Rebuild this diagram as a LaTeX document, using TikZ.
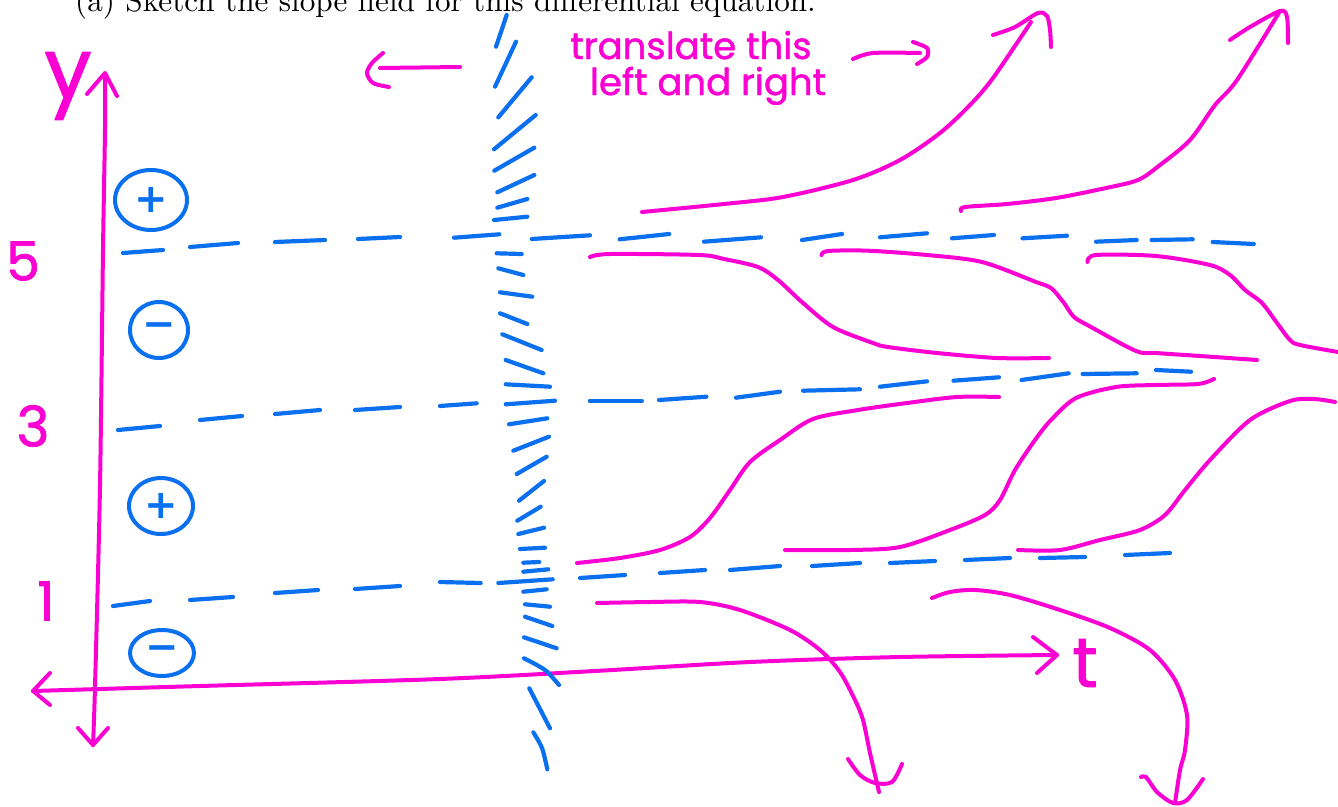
\documentclass[tikz,border=0pt]{standalone}
\usepackage{fontspec}
\usetikzlibrary{shapes.geometric}
\newfontfamily\hand{Poppins}[FakeBold=1.3]
\newfontfamily\signfont{DejaVu Sans}
\definecolor{mag}{RGB}{250,0,210}
\definecolor{blu}{RGB}{10,112,240}
\begin{document}
\begin{tikzpicture}[x=1pt,y=-1pt,line cap=round,line join=round,
  m/.style={draw=mag,line width=4pt},
  b/.style={draw=blu,line width=4.2pt},
  hw/.style={text=mag,inner sep=0pt},
  sign/.style={ellipse,draw=blu,line width=4pt,text=blu,inner sep=0pt,font=\signfont\bfseries\fontsize{40}{40}\selectfont}]
\useasboundingbox (0,0) rectangle (1338,806);
\clip (0,0) rectangle (1338,806);
% heading (cut at top, as in the reference)
\node[anchor=base west,inner sep=0pt] (head) at (75,11.5) {\scalebox{3.12}{\fontsize{10}{12}\selectfont (a) Sketch the slope field for this differential equation.}};
% annotation
\node[hw,anchor=base,font=\hand\fontsize{37}{37}\selectfont] (tr) at (691,59) {translate this};
\node[hw,anchor=base,font=\hand\fontsize{37}{37}\selectfont] (lr) at (708,95) {left and right};
\draw[m] (460,67) -- (380,68);
\draw[m] plot[smooth] coordinates {(383,53) (372,63) (367,73) (373,83) (389,87)};
\draw[m] plot[smooth] coordinates {(853,59) (873,53) (920,53)};
\draw[m] plot[smooth] coordinates {(913,42) (927,48) (927,57) (917,64)};
% axes
\draw[m] plot[smooth] coordinates {(93,745) (95,687) (100,486) (103,250) (105,129) (105,74)};
\draw[m] (87,94) -- (105,73) -- (117,96);
\draw[m] (78,728) -- (93,745) -- (108,728);
\draw[m] plot[smooth] coordinates {(33,691) (200,686) (440,679) (600,670.7) (750,662) (900,657) (1057,655)};
\draw[m] (50,673) -- (33,691) -- (50,705);
\draw[m] (1033,637) -- (1057,655) -- (1037,673);
\node[hw,font=\hand\fontsize{84}{84}\selectfont] (ylab) at (68,86) {y};
\node[hw,font=\hand\fontsize{54}{54}\selectfont] (l5) at (23,261) {5};
\node[hw,font=\hand\fontsize{56}{56}\selectfont] (l3) at (33,426) {3};
\node[hw,font=\hand\fontsize{54}{54}\selectfont] (l1) at (46,601) {1};
\node[hw,font=\hand\fontsize{70}{70}\selectfont] (tlab) at (1085,663) {t};
% sign circles
\node[sign,minimum width=72pt,minimum height=60pt] (p1) at (151,200) {+};
\node[sign,minimum width=58pt,minimum height=56pt] (n1) at (159,330) {\char"2212};
\node[sign,minimum width=64pt,minimum height=56pt] (p2) at (161,506) {+};
\node[sign,minimum width=64pt,minimum height=46pt] (n2) at (162,653) {\char"2212};
% equilibrium dashes y=5
\foreach \a/\b in {{(123,253)}/{(163,250)},{(190,247)}/{(238,243)},{(275,242)}/{(325,240)},{(358,239)}/{(400,237)},{(454,237.7)}/{(499.3,234.3)},{(531.7,239)}/{(590,235.3)},{(619.6,239.3)}/{(669.2,234)},{(703.9,241.7)}/{(761,237.3)},{(802,240)}/{(842,234)},{(880,237.3)}/{(927,233.3)},{(952,238.3)}/{(994,235)},{(1022.5,238.3)}/{(1067,235.7)},{(1096,241.7)}/{(1136.7,240)},{(1151.6,240)}/{(1192.7,239.3)},{(1212.6,242)}/{(1253.8,244)}}
  \draw[b] \a -- \b;
% y=3
\foreach \a/\b in {{(118,430)}/{(160,426)},{(200,420)}/{(242,416)},{(275,414)}/{(320,410)},{(355,410)}/{(400,407)},{(440,406)}/{(476.7,403.3)},{(589.8,401)}/{(641.9,401)},{(659,400)}/{(706.4,396.7)},{(736,397.7)}/{(780,391.7)},{(803,390.7)}/{(860,389.3)},{(880,386.7)}/{(927,381.3)},{(953.5,380.7)}/{(999,377.3)},{(1021.5,380)}/{(1068.7,373.3)},{(1082.6,374)}/{(1136.7,373.3)},{(1156,370)}/{(1191,371.7)}}
  \draw[b] \a -- \b;
% y=1
\foreach \a/\b in {{(113,606)}/{(150,601)},{(190,600)}/{(233,597)},{(275,593)}/{(318,590)},{(355,589)}/{(400,586)},{(440,582)}/{(480.7,583)},{(498.3,583)}/{(552.7,579.3)},{(580,578)}/{(625,575)},{(660,573)}/{(705,570)},{(730,570)}/{(780,566)},{(812,566)}/{(860,563)},{(890,563)}/{(935,561)},{(965,560)}/{(1010,558)},{(1040,558)}/{(1085,557)},{(1125,555)}/{(1170,553)}}
  \draw[b] \a -- \b;
% slope field column
\foreach \a/\b in {{(506.7,15)}/{(496,46.7)},{(516,41.7)}/{(495,86.7)},{(531.7,77.3)}/{(498.3,117.3)},{(535.7,115)}/{(494,149.3)},{(534.3,147.7)}/{(494.3,170.7)},{(534.3,175)}/{(497.3,192.3)},{(527.3,199)}/{(497.3,207.7)},{(527.3,216.7)}/{(494,220)},{(496.7,253.3)}/{(521.7,254)},{(498.3,268.3)}/{(523.3,275)},{(500,292.3)}/{(532.3,296.7)},{(500,313.3)}/{(527.3,324)},{(502.3,334.3)}/{(541.7,350)},{(505.7,360)}/{(543.3,373.3)},{(505.7,384.3)}/{(550,386.7)},{(505.7,404.3)}/{(555,400.7)},{(509,424.3)}/{(547.3,418.3)},{(513.3,450.7)}/{(549,436.7)},{(516.7,474)}/{(546.7,456.7)},{(519,500.7)}/{(544,481)},{(517.3,520.7)}/{(540.7,506.7)},{(518.3,534)}/{(544,527.7)},{(520,549)}/{(545,547.7)},{(523.3,562.7)}/{(539.3,562)},{(523.3,571.7)}/{(548.3,569.3)},{(523.3,591.7)}/{(546.7,589.3)},{(525,604.3)}/{(550,606.7)},{(525,616.7)}/{(552.3,626)},{(524,637.3)}/{(556.7,648.3)},{(529.3,688.3)}/{(550,728.3)}}
  \draw[b] \a -- \b;
\draw[b] plot[smooth] coordinates {(524,658.3) (545,670) (559,685)};
\draw[b] plot[smooth] coordinates {(533.3,732.3) (542,748) (547.3,769.3)};
% solution curves
\draw[m] plot[smooth] coordinates {(642,212) (724,204) (783,197) (853,180) (900,160) (940,133) (970,105) (993,78) (1031,22)};
\draw[m] plot[smooth] coordinates {(993,35) (1015,27) (1038,13) (1047,16) (1050,30) (1051,47)};
\draw[m] plot[smooth] coordinates {(961,211) (965,207) (1007,204) (1056,198) (1106,188) (1138,180) (1160,165) (1190,140) (1215,105) (1237,80) (1280,11)};
\draw[m] plot[smooth] coordinates {(1230,40) (1250,27) (1280,11) (1287,17) (1288,43)};
\draw[m] plot[smooth] coordinates {(590,257) (610,254) (699,255) (724,259) (758,267) (778,280) (803,303) (833,327) (873,343) (888,347) (937,353) (997,358) (1049,358)};
\draw[m] plot[smooth] coordinates {(821.5,255) (828,251) (868,250.7) (927,255) (982,262) (1036,282) (1051,288) (1064,303) (1074,317) (1091,327) (1136,351) (1156,353) (1200,356) (1257,360)};
\draw[m] plot[smooth] coordinates {(1087.5,262) (1096,255) (1156,256) (1210,265) (1230,275) (1245,290) (1262,303) (1277,323) (1290,340) (1300,345) (1338,352)};
\draw[m] plot[smooth] coordinates {(577,563) (620,558) (660,550) (690,537) (710,518) (730,490) (750,462) (780,440) (813,419) (858,410) (907,403) (957,397) (999,397)};
\draw[m] plot[smooth] coordinates {(785,550) (850,550) (900,547) (950,530) (985,515) (1000,500) (1015,470) (1035,440) (1051,420) (1076,398) (1116,387) (1155,385) (1198,384) (1214,379)};
\draw[m] plot[smooth] coordinates {(1018,550) (1060,550) (1100,540) (1140,530) (1165,515) (1185,490) (1210,460) (1250,420) (1290,401) (1314,399) (1335,402)};
\draw[m] plot[smooth] coordinates {(597,603) (650,602) (700,602) (740,610) (790,630) (820,650) (840,672) (855,700) (863,720) (870,753) (879,792)};
\draw[m] plot[smooth] coordinates {(848,759) (860,775) (875,783) (892,782) (902,764)};
\draw[m] plot[smooth] coordinates {(932,598) (950,592) (975,590) (1010,595) (1060,610) (1110,628) (1150,650) (1175,680) (1187,715) (1185,750) (1180,770) (1175,803)};
\draw[m] plot[smooth] coordinates {(1141,777) (1146,777) (1157,792) (1173,803) (1187,800) (1203,779)};
\end{tikzpicture}
\end{document}
